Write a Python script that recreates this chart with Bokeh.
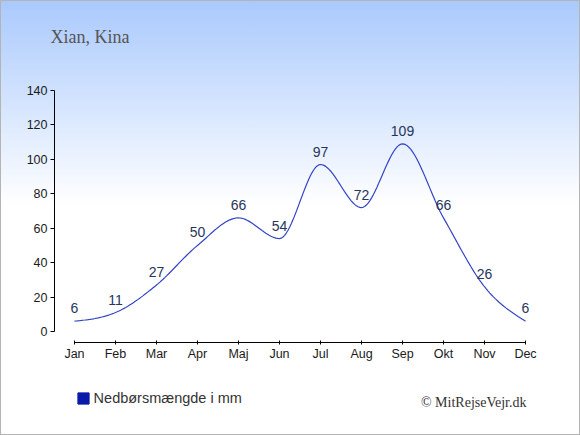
import numpy as np
from bokeh.plotting import figure
from bokeh.models import (Range1d, FixedTicker, Label, Legend, LegendItem,
                          ColumnDataSource)
from bokeh.core.properties import value
from bokeh.embed import file_html
from bokeh.resources import INLINE

# ---- data ----
months = ["Jan", "Feb", "Mar", "Apr", "Maj", "Jun",
          "Jul", "Aug", "Sep", "Okt", "Nov", "Dec"]
precip = [6, 11, 27, 50, 66, 54, 97, 72, 109, 66, 26, 6]
y_ticks = [0, 20, 40, 60, 80, 100, 120, 140]
title_text = "Xian, Kina"
legend_text = "Nedbørsmængde i mm"
credit_text = "© MitRejseVejr.dk"

# ---- monotone cubic (d3 curveMonotoneX style) rendering of the series ----
def monotone_curve(xs, ys, n=24):
    xs = np.asarray(xs, float)
    ys = np.asarray(ys, float)
    h = np.diff(xs)
    s = np.diff(ys) / h
    m = np.zeros_like(ys)
    for i in range(1, len(ys) - 1):
        s0, s1 = s[i - 1], s[i]
        p = (s0 * h[i] + s1 * h[i - 1]) / (h[i - 1] + h[i])
        m[i] = (np.sign(s0) + np.sign(s1)) * min(abs(s0), abs(s1), 0.5 * abs(p))
    m[0] = (3 * s[0] - m[1]) / 2
    m[-1] = (3 * s[-1] - m[-2]) / 2
    ox, oy = [], []
    for i in range(len(xs) - 1):
        t = np.linspace(0, 1, n, endpoint=(i == len(xs) - 2))
        h00 = 2 * t**3 - 3 * t**2 + 1
        h10 = t**3 - 2 * t**2 + t
        h01 = -2 * t**3 + 3 * t**2
        h11 = t**3 - t**2
        ox.extend(xs[i] + t * h[i])
        oy.extend(h00 * ys[i] + h10 * h[i] * m[i] + h01 * ys[i + 1] + h11 * h[i] * m[i + 1])
    return ox, oy

idx = list(range(len(months)))
cx, cy = monotone_curve(idx, precip)

# ---- geometry (pixels of the 580x435 picture) ----
W, H = 580, 435
PX_X = 41.0          # pixels per month
PX_Y = 241 / 140     # pixels per mm
JAN_PX = 74          # x pixel of Jan
ZERO_PX = 331        # y pixel of 0 mm

def dx(px):
    return (px - JAN_PX) / PX_X

def dy(py):
    return (ZERO_PX - py) / PX_Y

p = figure(width=W, height=H, output_backend="svg", toolbar_location=None,
           x_range=Range1d(dx(0), dx(W)), y_range=Range1d(dy(H), dy(0)),
           min_border=0)
p.styles = {
    "background": "linear-gradient(to bottom, #a9c9fd 0px, #ffffff 205px, #ffffff 100%)",
    "box-shadow": "inset 0 0 0 1px #b4b4b4",
}
p.background_fill_alpha = 0
p.border_fill_alpha = 0
p.outline_line_color = None
p.grid.visible = False

# axes (drawn at fixed places inside the canvas)
xa = p.xaxis[0]
xa.fixed_location = dy(342)
xa.ticker = FixedTicker(ticks=idx)
xa.major_label_overrides = {i: m for i, m in enumerate(months)}
xa.bounds = (0, 11)
xa.minor_tick_line_color = None
xa.major_tick_in = 2
xa.major_tick_out = 2
xa.major_label_standoff = 2
xa.axis_line_color = "black"
xa.major_tick_line_color = "black"
xa.major_label_text_font = "Liberation Sans"
xa.major_label_text_font_size = "12.5px"
xa.major_label_text_color = "#1a1a1a"

ya = p.yaxis[0]
ya.fixed_location = dx(54)
ya.ticker = FixedTicker(ticks=y_ticks)
ya.bounds = (0, 140)
ya.minor_tick_line_color = None
ya.major_tick_in = 0
ya.major_tick_out = 4
ya.major_label_standoff = 3
ya.axis_line_color = "black"
ya.major_tick_line_color = "black"
ya.major_label_text_font = "Liberation Sans"
ya.major_label_text_font_size = "12.5px"
ya.major_label_text_color = "#1a1a1a"

# series line
p.line(cx, cy, line_color="#3344c4", line_width=1.2)

# value labels
src = ColumnDataSource(dict(x=idx, y=precip, t=[str(v) for v in precip]))
p.text(x="x", y="y", text="t", source=src, y_offset=-13,
       text_align="center", text_baseline="middle",
       text_font=value("Liberation Sans"), text_font_size="14px",
       text_color="#26365a")

# legend (square swatch); the quad itself has no visible extent
sw = p.quad(left=[np.nan], right=[np.nan], top=[np.nan], bottom=[np.nan],
            fill_color="#0a1aa8", line_color="#0a1aa8")
legend = Legend(items=[LegendItem(label=legend_text, renderers=[sw])],
                location=(75.6, H - 405.5), orientation="horizontal",
                glyph_width=14, glyph_height=14, label_height=14,
                label_standoff=4, padding=0, margin=0, spacing=0,
                background_fill_alpha=0, border_line_alpha=0,
                label_text_font="Liberation Sans", label_text_font_size="14.5px",
                label_text_color="#333333")
p.add_layout(legend, "center")

# title and credit
p.add_layout(Label(x=dx(50), y=dy(36.7),
                   text=title_text, text_font="Liberation Serif",
                   text_font_size="18px", text_color="#555555",
                   text_align="left", text_baseline="alphabetic"))
p.add_layout(Label(x=dx(526), y=dy(401.7),
                   text=credit_text, text_font="Liberation Serif",
                   text_font_size="14px", text_color="#333333",
                   text_align="right", text_baseline="alphabetic"))

open("out.html", "w").write(file_html(p, INLINE))
